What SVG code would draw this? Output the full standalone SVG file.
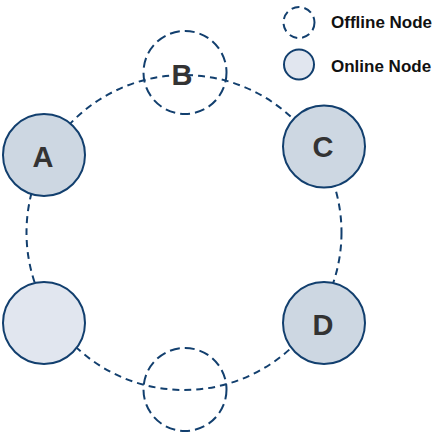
<svg xmlns="http://www.w3.org/2000/svg" width="442" height="439" viewBox="0 0 442 439">
<style>
.ring{fill:none;stroke:#123f6e;stroke-width:2;stroke-dasharray:7 5}
.online{fill:#cdd7e2;stroke:#123f6e;stroke-width:2}
.empty{fill:#e1e6ef;stroke:#123f6e;stroke-width:2}
.offline{fill:none;stroke:#123f6e;stroke-width:2;stroke-dasharray:10 5}
.lbl{font-family:"Liberation Sans",Arial,sans-serif;font-weight:bold;font-size:29px;fill:#333;text-anchor:middle}
.leg{font-family:"Liberation Sans",Arial,sans-serif;font-weight:bold;font-size:17px;fill:#111}
</style>
<rect width="442" height="439" fill="#fff"/>
<g id="connectors">
<circle class="ring" cx="184" cy="232.5" r="157.5"/>
</g>
<g id="node-A"><circle class="online" cx="44" cy="155" r="41"/><text class="lbl" x="43" y="167">A</text></g>
<g id="node-B"><circle class="offline" cx="185" cy="72.5" r="41.5"/><text class="lbl" x="182" y="85">B</text></g>
<g id="node-C"><circle class="online" cx="324" cy="146.5" r="41"/><text class="lbl" x="323" y="157">C</text></g>
<g id="node-D"><circle class="online" cx="324" cy="323" r="41"/><text class="lbl" x="323" y="335">D</text></g>
<g id="node-E"><circle class="empty" cx="44" cy="323" r="41"/></g>
<g id="node-F"><circle class="offline" cx="185" cy="389.5" r="41.5"/></g>
<g id="legend">
<circle class="offline" cx="299" cy="22.5" r="15.5" style="stroke-dasharray:8 5"/>
<text class="leg" x="331" y="28">Offline Node</text>
<circle class="empty" cx="299" cy="64.5" r="15"/>
<text class="leg" x="331" y="72">Online Node</text>
</g>
</svg>
